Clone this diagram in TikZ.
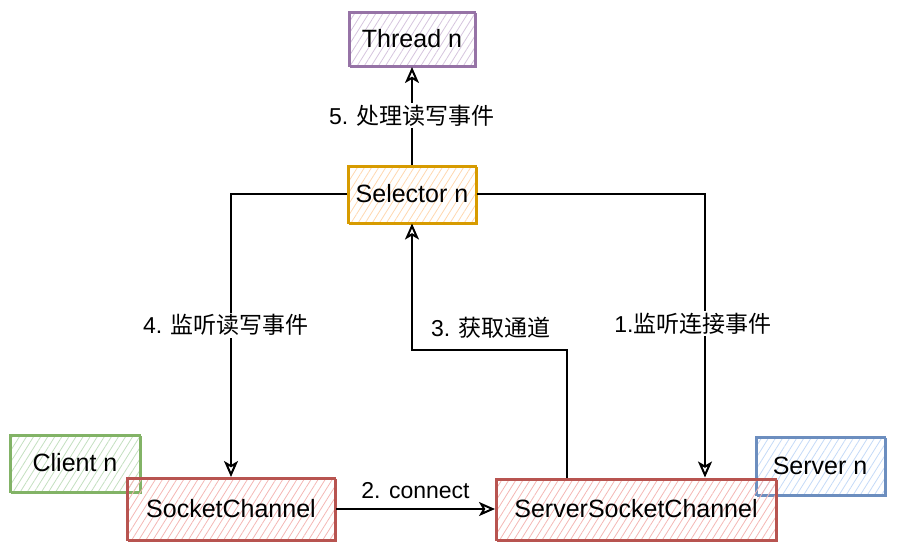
\documentclass[tikz,border=0pt]{standalone}
\usepackage{fontspec}
\setmainfont{Liberation Sans}
\newfontfamily\cjk{Noto Sans CJK SC}
\usepackage{tikz}
\usepackage{xcolor}
\usetikzlibrary{arrows.meta,patterns.meta}
\definecolor{redline}{HTML}{B85450}
\definecolor{redfill}{HTML}{F4B7B4}
\definecolor{greenline}{HTML}{82B366}
\definecolor{greenfill}{HTML}{C3DFBF}
\definecolor{blueline}{HTML}{6C8EBF}
\definecolor{bluefill}{HTML}{C4DAF7}
\definecolor{orangeline}{HTML}{D79B00}
\definecolor{orangefill}{HTML}{FFD7AE}
\definecolor{purpleline}{HTML}{9673A6}
\definecolor{purplefill}{HTML}{D5C4DD}
\tikzstyle{proc} = [rectangle, draw, line width=2pt, inner sep=0pt,
  pattern={Lines[angle=58,distance=6pt,line width=0.8pt]},
  postaction={draw, line width=1pt, transform canvas={shift={(1.5pt,-1.5pt)}}},
  font=\fontsize{25}{29}\selectfont]
\tikzstyle{lbl} = [fill=white, inner sep=2pt, font=\fontsize{23}{27}\selectfont]

\begin{document}
\begin{tikzpicture}[x=1pt,y=-1pt,->,>={Stealth[open,length=16pt,width=14pt,inset=4pt]},line width=2pt]
  \useasboundingbox (0,0) rectangle (897,547);
  % side boxes first, channels lie over them
  \node[proc, draw=greenline, pattern color=greenfill, minimum width=130pt, minimum height=57pt] (Client) at (75,463) {Client n};
  \node[proc, draw=blueline, pattern color=bluefill, minimum width=129pt, minimum height=58pt] (Server) at (820,466) {Server n};
  \node[proc, draw=purpleline, pattern color=purplefill, minimum width=126pt, minimum height=54pt] (Thread) at (412,39) {Thread n};
  \node[proc, draw=orangeline, pattern color=orangefill, minimum width=128pt, minimum height=57pt] (Selector) at (412,194) {Selector n};
  \node[proc, draw=redline, pattern color=redfill, minimum width=208pt, minimum height=62pt] (SocketChannel) at (231,509) {SocketChannel};
  \node[proc, draw=redline, pattern color=redfill, minimum width=280pt, minimum height=61pt] (ServerSocketChannel) at (636,509) {ServerSocketChannel};
  \coordinate (Knick) at (412,350);

  \draw (Selector.east) -| ([xshift=69pt]ServerSocketChannel.north)
    node[lbl, pos=0.729, xshift=-12pt] {1.{\cjk 监听连接事件}};
  \draw (SocketChannel) -- (ServerSocketChannel)
    node[midway, above=6pt, font=\fontsize{23}{27}\selectfont] {2. connect};
  \draw ([xshift=-69pt]ServerSocketChannel.north) |- (Knick) -- (Selector.south);
  \node[lbl] (L3) at (491,328) {3. {\cjk 获取通道}};
  \draw (Selector.west) -| (SocketChannel.north)
    node[lbl, pos=0.732, xshift=-5pt] {4. {\cjk 监听读写事件}};
  \draw (Selector) -- (Thread) node[lbl, midway] {5. {\cjk 处理读写事件}};
\end{tikzpicture}
\end{document}
